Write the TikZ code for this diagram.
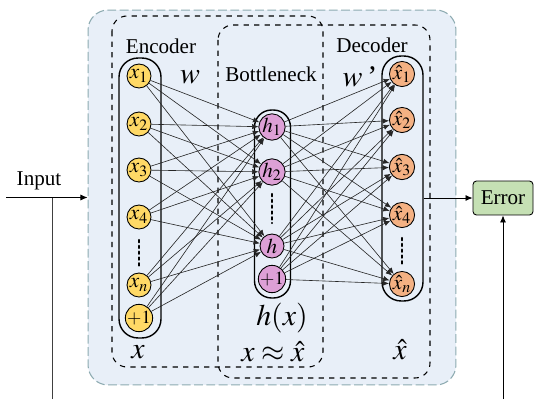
\documentclass[tikz,border=0pt]{standalone}
\usepackage{mathptmx}
\usepackage{fontspec}
\setmainfont{Liberation Serif}
\usepackage{tikz}
\usetikzlibrary{positioning,arrows.meta}
\definecolor{encYellow}{RGB}{255, 217, 102}
\definecolor{botPink}{RGB}{221, 160, 214}
\definecolor{decOrange}{RGB}{244, 177, 131}
\definecolor{errGreen}{RGB}{197, 224, 180}
\definecolor{bgBlue}{RGB}{232, 239, 248}
\definecolor{frameGray}{RGB}{140, 170, 176}

\begin{document}
\begin{tikzpicture}[x=0.02cm, y=-0.02cm,
    neuron/.style={circle, draw, line width=0.5pt, minimum size=0.48cm, inner sep=0pt, font=\fontsize{12}{13}\selectfont},
    bias/.style={neuron, font=\fontsize{10.5}{12}\selectfont},
    layer/.style={draw, line width=0.8pt, rounded corners=0.38cm},
    part/.style={draw, dashed, line width=0.6pt, rounded corners=0.3cm},
    link/.style={-{Latex[length=3.6pt,width=3pt]}, line width=0.35pt, black!85},
    dots/.style={dotted, line width=1.3pt, line cap=round},
    lbl/.style={font=\fontsize{12}{14}\selectfont},
    big/.style={inner sep=0pt, font=\fontsize{17}{20}\selectfont}]
    \useasboundingbox (0,0) rectangle (534,399);
    % background panel
    \node[draw=frameGray, dash pattern=on 5pt off 2pt, line width=0.6pt, fill=bgBlue, rounded corners=0.4cm,
          minimum width=7.36cm, minimum height=7.5cm] (panel) at (272,197.5) {};
    % encoder / decoder regions
    \draw[part] (112,16) rectangle (323,367);
    \draw[part] (218,25) rectangle (430,378);
    \node[lbl] (enclbl) at (161,46) {Encoder};
    \node[lbl] (botlbl) at (271,74) {Bottleneck};
    \node[lbl] (declbl) at (372,45) {Decoder};
    % layers
    \node[layer, minimum width=0.84cm, minimum height=5.6cm] (encpill) at (140,198) {};
    \node[layer, minimum width=0.72cm, minimum height=3.76cm, rounded corners=0.34cm] (botpill) at (272.5,204) {};
    \node[layer, minimum width=0.82cm, minimum height=4.9cm] (decpill) at (402.5,178.5) {};
    % input layer
    \node[neuron, fill=encYellow] (e1) at (139,76) {$x_1$};
    \node[neuron, fill=encYellow] (e2) at (139,124) {$x_2$};
    \node[neuron, fill=encYellow] (e3) at (139,170) {$x_3$};
    \node[neuron, fill=encYellow] (e4) at (139,217) {$x_4$};
    \node[neuron, fill=encYellow] (e5) at (139,285) {$x_n$};
    \node[bias, fill=encYellow] (e6) at (139,318) {$+1$};
    \draw[dots] (139,240) -- (139,268);
    % hidden layer
    \node[neuron, fill=botPink] (b1) at (272,127) {$h_1$};
    \node[neuron, fill=botPink] (b2) at (272,172) {$h_2$};
    \node[neuron, fill=botPink] (b3) at (272,246) {$h$};
    \node[bias, fill=botPink] (b4) at (272,279) {$+1$};
    \draw[dots] (272,194) -- (272,223);
    % output layer
    \node[neuron, fill=decOrange] (d1) at (402,74) {$\hat{x}_1$};
    \node[neuron, fill=decOrange] (d2) at (402,120) {$\hat{x}_2$};
    \node[neuron, fill=decOrange] (d3) at (402,167) {$\hat{x}_3$};
    \node[neuron, fill=decOrange] (d4) at (402,215) {$\hat{x}_4$};
    \node[neuron, fill=decOrange] (d5) at (402,284) {$\hat{x}_n$};
    \draw[dots] (402,238) -- (402,265);
    % weights
    \foreach \i in {1,...,6}
        \foreach \j in {1,2,3}
            \draw[link] (e\i) -- (b\j);
    \foreach \i in {1,...,4}
        \foreach \j in {1,...,5}
            \draw[link] (b\i) -- (d\j);
    \node[big] (wenc) at (190,77) {$w$};
    \node[big] (wdec) at (360,77) {$w$\,'};
    \node[big] (hx) at (282,318) {$h(x)$};
    \node[big] (xin) at (138,352) {$x$};
    \node[big] (approx) at (273,352) {$x\approx\hat{x}$};
    \node[big] (xout) at (400,350) {$\hat{x}$};
    % input and error
    \node[lbl] (input) at (39,181) {Input};
    \coordinate (instart) at (6,197.5);
    \draw[-{Latex[length=4pt,width=3.5pt]}, line width=0.5pt] (instart) -- (panel.west);
    \coordinate (inloop) at (52,399);
    \draw[line width=0.5pt, black!75] (inloop) -- (inloop |- instart);
    \node[draw, fill=errGreen, rounded corners=2pt, line width=0.5pt, minimum width=1.2cm, minimum height=0.68cm, lbl] (error) at (503,198) {Error};
    \draw[-{Latex[length=4pt,width=3.5pt]}, line width=0.5pt] (decpill.east |- error.west) -- (error.west);
    \coordinate (errloop) at (503,399);
    \draw[-{Latex[length=4pt,width=3.5pt]}, line width=0.5pt] (errloop) -- (error.south);
\end{tikzpicture}
\end{document}
